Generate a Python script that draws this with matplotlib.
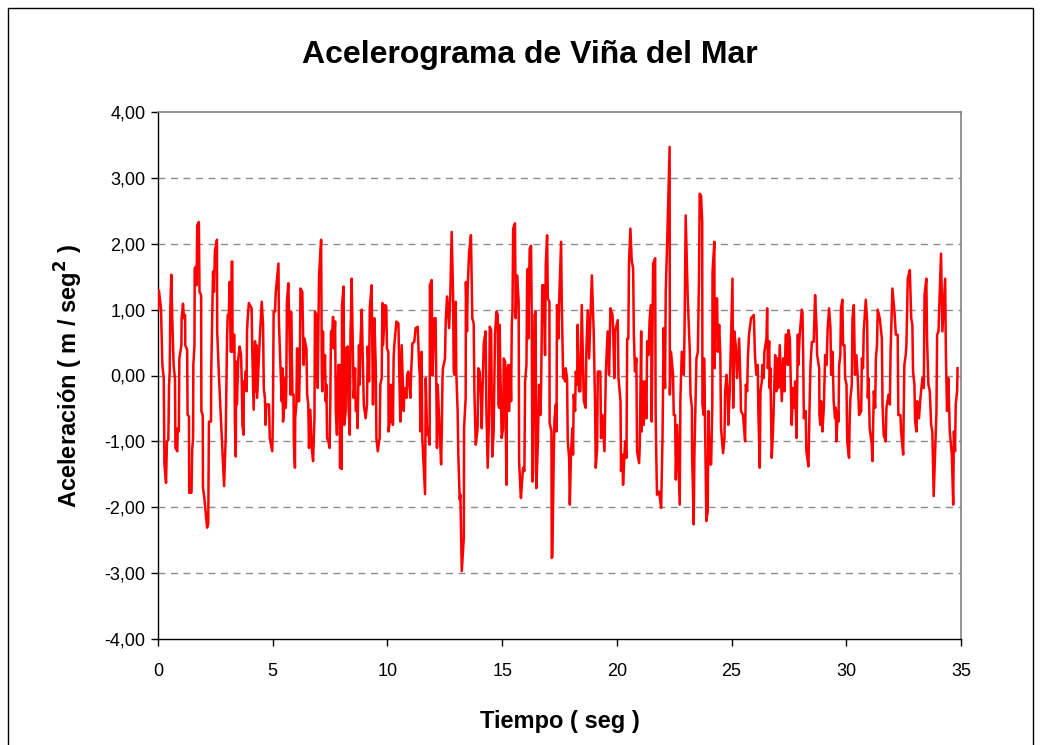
import numpy as np
import matplotlib
matplotlib.use('Agg')
import matplotlib.pyplot as plt
from matplotlib.patches import Rectangle
from matplotlib.ticker import FuncFormatter

plt.rcParams['font.family'] = ['Liberation Sans', 'DejaVu Sans']

# (tiempo [s], aceleracion [m/s2]), in ~3 s chunks
seg_00_03 = [(0.00, 1.00), (0.04, 1.29), (0.13, 1.02), (0.19, 0.16), (0.25, -0.04), (0.28, -1.35),
             (0.35, -1.63), (0.39, -1.00), (0.45, -0.98), (0.48, -0.17), (0.51, 0.06), (0.54, 1.07),
             (0.58, 1.53), (0.62, 0.90), (0.68, 0.16), (0.74, -0.05), (0.76, -1.10), (0.84, -1.15),
             (0.86, -0.80), (0.91, -0.85), (0.93, 0.26), (1.02, 0.46), (1.03, 0.87), (1.09, 1.09),
             (1.13, 0.87), (1.18, 0.92), (1.19, 0.46), (1.27, 0.39), (1.29, -0.60), (1.35, -0.62),
             (1.36, -1.78), (1.46, -1.78), (1.49, -1.12), (1.53, -0.95), (1.54, 0.16), (1.59, 0.46),
             (1.60, 1.63), (1.65, 1.65), (1.68, 1.37), (1.71, 2.28), (1.78, 2.33), (1.81, 1.27),
             (1.88, 1.22), (1.89, -0.54), (1.95, -0.60), (1.96, -1.70), (2.02, -1.86), (2.14, -2.31),
             (2.19, -2.25), (2.22, -0.70), (2.31, -0.70), (2.32, 0.06), (2.40, 1.58), (2.44, 1.27),
             (2.48, 1.89), (2.57, 2.06), (2.58, 0.67), (2.66, -0.04), (2.78, -0.95)]

seg_03_06 = [(2.88, -1.68), (2.95, -0.95), (3.01, 0.57), (3.04, 0.92), (3.09, 0.94), (3.12, 1.42),
             (3.18, 0.36), (3.21, 1.73), (3.24, 1.73), (3.25, 0.36), (3.27, 0.62), (3.33, 0.62),
             (3.35, -0.70), (3.39, -1.23), (3.41, 0.21), (3.44, -0.44), (3.50, 0.26), (3.56, 0.44),
             (3.62, 0.31), (3.65, -0.09), (3.68, -0.75), (3.73, -0.90), (3.74, -0.09), (3.79, -0.14),
             (3.81, 0.06), (3.85, 0.06), (3.86, -0.24), (3.88, 0.67), (3.91, 0.87), (3.96, 1.10),
             (4.08, 1.02), (4.11, 0.36), (4.17, -0.52), (4.23, 0.52), (4.26, -0.24), (4.29, 0.46),
             (4.32, -0.34), (4.37, 0.06), (4.43, 0.52), (4.52, 1.12), (4.58, 0.77), (4.61, -0.19),
             (4.66, -0.34), (4.69, -0.75), (4.72, -0.44), (4.84, -0.44), (4.87, -0.95), (4.98, -1.15),
             (5.01, -0.60), (5.04, 0.97), (5.10, 0.97), (5.13, 1.25), (5.25, 1.70), (5.27, 0.82),
             (5.33, 0.19), (5.39, -0.39), (5.42, 0.11), (5.45, -0.70), (5.51, -0.44), (5.54, -0.04),
             (5.57, -0.49), (5.59, -0.24), (5.62, 1.12), (5.68, 1.40), (5.71, 0.97), (5.74, 0.41),
             (5.78, -0.29)]

seg_06_09 = [(5.80, 0.97), (5.86, -0.29), (5.91, -0.29), (5.92, -1.00), (5.97, -1.40), (5.98, -0.65),
             (6.03, -0.44), (6.06, 0.41), (6.09, 0.41), (6.10, -0.39), (6.15, -0.39), (6.18, 0.11),
             (6.21, 1.32), (6.29, 1.27), (6.35, 0.16), (6.38, 0.56), (6.47, 0.41), (6.50, -0.29),
             (6.55, -0.44), (6.58, -1.10), (6.64, -0.52), (6.70, -1.10), (6.76, -1.30), (6.82, -0.65),
             (6.84, 0.97), (6.90, 0.92), (6.93, -0.04), (6.96, -0.19), (7.02, 1.52), (7.11, 2.06),
             (7.14, 0.06), (7.16, -0.24), (7.19, 0.67), (7.22, -0.04), (7.28, 0.31), (7.31, -0.39),
             (7.34, -0.14), (7.37, -0.95), (7.43, -1.00), (7.48, -1.10), (7.51, -0.44), (7.54, 0.67),
             (7.60, 0.69), (7.63, 0.89), (7.66, 0.41), (7.72, 0.82), (7.75, -0.54), (7.80, -0.90),
             (7.86, 0.16), (7.92, 0.16), (7.93, -1.40), (8.01, -1.42), (8.02, 1.07), (8.07, 1.27),
             (8.09, 1.35), (8.12, -0.75), (8.18, -0.54), (8.19, 0.41), (8.27, 0.44), (8.30, -0.42),
             (8.36, -0.90), (8.39, 0.67), (8.41, 0.87), (8.44, 1.47), (8.50, 0.29), (8.53, -0.34),
             (8.59, 0.11), (8.62, -0.54), (8.68, -0.54), (8.70, -0.80)]

seg_09_12 = [(8.76, 0.46), (8.79, -0.14), (8.82, 0.46), (8.88, 1.00), (8.94, 0.06), (8.97, -0.44),
             (9.05, -0.65), (9.11, -0.44), (9.14, 0.44), (9.20, -0.09), (9.23, 1.02), (9.31, 1.37),
             (9.37, -0.44), (9.43, 0.87), (9.49, 0.16), (9.52, -0.95), (9.58, -1.15), (9.66, -0.95),
             (9.69, -0.14), (9.75, -0.04), (9.78, 1.10), (9.81, 0.46), (9.90, 1.07), (9.95, 1.05),
             (9.98, 0.41), (10.04, 0.36), (10.05, -0.85), (10.10, -0.70), (10.13, -0.14), (10.16, -0.70),
             (10.22, -0.14), (10.24, -0.75), (10.27, 0.26), (10.30, 0.46), (10.39, 0.82), (10.48, 0.79),
             (10.51, 0.16), (10.56, -0.70), (10.62, 0.46), (10.71, -0.54), (10.74, -0.19), (10.83, -0.34),
             (10.86, 0.01), (10.91, 0.06), (11.00, -0.34), (11.03, 0.01), (11.09, 0.49), (11.17, 0.51),
             (11.23, 0.72), (11.32, 0.74), (11.38, 0.16), (11.41, 0.01), (11.44, -0.85), (11.49, 0.36),
             (11.52, -0.95), (11.64, -1.80), (11.67, -0.04), (11.73, -0.90)]

seg_12_15 = [(11.76, -0.80), (11.84, -1.05), (11.85, 1.37), (11.93, 1.45), (11.96, 0.00), (12.05, 0.87),
             (12.10, 0.87), (12.16, -1.10), (12.19, -0.14), (12.28, -0.85), (12.34, -1.35), (12.37, -0.85),
             (12.40, -0.04), (12.42, 0.11), (12.45, 0.16), (12.51, 0.26), (12.54, 0.82), (12.60, 1.20),
             (12.69, 0.72), (12.74, 1.22), (12.80, 2.18), (12.86, 1.27), (12.89, 0.06), (12.92, 0.01),
             (12.98, 1.12), (13.00, 0.06), (13.06, -0.54), (13.09, -1.20), (13.15, -1.88), (13.18, -1.81),
             (13.24, -2.97), (13.33, -2.46), (13.34, -0.80), (13.41, -0.34), (13.42, 1.42), (13.47, 0.67),
             (13.50, 1.37), (13.56, 1.87), (13.64, 2.13), (13.70, 0.87), (13.76, 0.79), (13.79, -0.24),
             (13.85, -1.05), (13.93, -0.80), (13.96, 0.11), (14.02, 0.06), (14.08, -0.39), (14.11, -0.80),
             (14.14, -0.29), (14.20, 0.49), (14.28, 0.67), (14.31, -0.44), (14.37, -1.40), (14.43, -0.60),
             (14.46, 0.74), (14.52, 0.69), (14.57, -1.23), (14.63, -0.85), (14.69, 0.62)]

seg_15_18 = [(14.75, 0.97), (14.81, 0.92), (14.84, -0.44), (14.87, -0.49), (14.89, 0.77), (14.92, 0.11),
             (14.98, -0.95), (15.04, -0.80), (15.07, 0.26), (15.13, 0.21), (15.16, -0.85), (15.19, -1.66),
             (15.21, 0.06), (15.27, 0.16), (15.30, -0.54), (15.36, 0.16), (15.39, -0.39), (15.42, 0.77),
             (15.45, 0.97), (15.48, 2.23), (15.56, 2.31), (15.59, 0.87), (15.65, 1.52), (15.72, 1.12),
             (15.74, -1.30), (15.80, -1.76), (15.82, -1.86), (15.91, -1.40), (15.97, -1.45), (16.00, -0.09),
             (16.06, 0.16), (16.09, 1.52), (16.12, 1.62), (16.14, 0.56), (16.20, 1.92), (16.26, 1.97),
             (16.29, 0.87), (16.32, -1.61), (16.35, -1.45), (16.41, 0.92), (16.46, 0.97), (16.49, -1.71),
             (16.55, -1.10), (16.61, -0.14), (16.67, -0.60), (16.70, -0.14), (16.75, 1.37), (16.81, 1.37),
             (16.87, 0.31), (16.90, 1.67), (16.96, 2.13), (16.99, 1.17), (17.06, 1.12), (17.07, -0.72),
             (17.15, -0.85), (17.16, -2.77), (17.19, -2.75), (17.25, -1.20), (17.28, -0.67), (17.34, -0.44),
             (17.37, -0.85), (17.39, 1.07), (17.45, 0.56), (17.48, 1.07), (17.57, 2.03), (17.60, 1.07),
             (17.66, -0.04)]

seg_18_21 = [(17.71, 0.06), (17.74, -0.09), (17.77, 0.11), (17.83, -0.04), (17.86, -1.00), (17.92, -1.25),
             (17.95, -1.96), (18.00, -1.20), (18.06, -0.80), (18.09, -1.20), (18.12, -0.29), (18.18, -0.54),
             (18.21, 0.06), (18.27, -0.14), (18.29, 0.77), (18.35, -0.24), (18.41, -0.24), (18.47, 1.07),
             (18.56, -0.39), (18.64, -0.49), (18.67, 0.36), (18.73, 0.99), (18.79, 0.26), (18.91, 1.52),
             (18.99, 0.67), (19.05, -0.44), (19.08, -1.40), (19.14, -1.10), (19.17, 0.06), (19.28, 0.06),
             (19.31, -0.95), (19.37, -0.60), (19.43, -0.95), (19.46, -1.15), (19.52, 0.06), (19.60, 0.67),
             (19.66, 0.01), (19.72, 1.02), (19.81, 0.92), (19.84, 0.67), (19.89, -0.04), (19.92, 0.67),
             (20.04, 0.84), (20.07, -0.04), (20.16, -0.39), (20.18, -1.45), (20.24, -1.20), (20.27, -1.66),
             (20.36, -1.00), (20.42, -1.25), (20.45, 0.56), (20.50, 0.56), (20.53, 1.72), (20.59, 2.23)]

seg_21_24 = [(20.65, 1.73), (20.71, 1.63), (20.74, 0.62), (20.79, 0.06), (20.85, 0.26), (20.88, -1.15),
             (20.97, -1.33), (21.00, -1.05), (21.06, 0.67), (21.08, -0.85), (21.14, -0.09), (21.17, -0.75),
             (21.23, -0.09), (21.29, -0.65), (21.32, 0.52), (21.38, 0.31), (21.43, 0.87), (21.49, 1.07),
             (21.52, -0.70), (21.58, 1.70), (21.67, 1.78), (21.69, -0.54), (21.72, -1.25), (21.75, -1.81),
             (21.84, -1.76), (21.93, -2.01), (21.99, -0.95), (22.04, 0.72), (22.10, -0.19), (22.13, 1.27),
             (22.19, 1.98), (22.30, 3.47), (22.31, -0.29), (22.36, 0.36), (22.45, 0.01), (22.48, -0.60),
             (22.54, -0.60), (22.57, -1.58), (22.63, -0.75), (22.74, -1.96), (22.77, -0.34), (22.83, 0.36),
             (22.92, 0.01), (22.95, 0.67), (23.00, 2.43), (23.09, 1.17), (23.18, 0.36), (23.21, -0.29),
             (23.27, -0.49), (23.28, -1.20), (23.35, -2.26), (23.38, -1.20), (23.47, 0.26), (23.53, 0.36),
             (23.58, 1.47)]

seg_24_27 = [(23.61, 2.76), (23.67, 2.73), (23.72, 2.33), (23.73, -0.44), (23.79, -0.60), (23.80, 0.26),
             (23.84, -0.60), (23.90, -2.21), (23.96, -2.06), (23.99, -0.54), (24.05, -1.35), (24.11, -1.35),
             (24.16, -0.44), (24.17, 1.57), (24.25, 2.03), (24.26, 0.11), (24.31, 1.17), (24.37, 1.17),
             (24.40, 0.36), (24.46, 0.77), (24.51, 0.31), (24.54, -0.80), (24.63, -1.18), (24.69, -0.95),
             (24.72, -0.24), (24.78, 0.01), (24.83, -0.29), (24.86, -0.75), (24.92, -0.24), (25.04, 1.47),
             (25.07, -0.49), (25.12, 0.67), (25.18, 0.46), (25.24, -0.04), (25.33, 0.56), (25.39, -0.14),
             (25.41, -0.54), (25.50, -0.60), (25.59, -1.00), (25.62, -0.14), (25.68, -0.24), (25.71, 0.26),
             (25.76, 0.62), (25.85, 0.87), (25.97, 0.92), (26.02, 0.31), (26.08, 0.01), (26.14, 0.16),
             (26.17, -0.60), (26.23, -1.40), (26.26, -0.24), (26.32, -0.09), (26.34, 0.16), (26.40, -0.04),
             (26.43, 0.36), (26.52, 0.56), (26.55, 1.02)]

seg_27_30 = [(26.58, 0.11), (26.64, 0.52), (26.66, -0.19), (26.69, 0.11), (26.75, -1.25), (26.81, -0.80),
             (26.90, 0.31), (26.95, -0.24), (27.01, 0.26), (27.04, -0.19), (27.10, 0.46), (27.19, -0.39),
             (27.25, 0.26), (27.30, -0.24), (27.36, 0.62), (27.42, 0.62), (27.45, 0.16), (27.48, 0.69),
             (27.54, 0.56), (27.62, -0.75), (27.68, -0.19), (27.74, -0.49), (27.77, -0.09), (27.83, -0.95),
             (27.89, 0.62), (27.91, 0.16), (27.97, 0.62), (28.06, 1.00), (28.09, 0.97), (28.12, 0.36),
             (28.15, -0.65), (28.23, -0.54), (28.26, -1.15), (28.35, -1.38), (28.41, -0.29), (28.44, 0.16),
             (28.50, 0.51), (28.58, 0.51), (28.64, 1.22), (28.70, 0.77), (28.73, 0.31), (28.82, 0.11),
             (28.83, -0.60), (28.87, -0.75), (28.90, -0.39), (28.96, -0.85), (29.02, -0.49), (29.08, 0.31),
             (29.14, 0.16), (29.19, 0.72), (29.25, 1.02), (29.31, 0.72), (29.34, 0.01), (29.40, 0.36),
             (29.45, -0.39), (29.51, -0.65)]

seg_30_33 = [(29.54, -0.49), (29.57, -1.00), (29.63, -0.54), (29.66, -0.70), (29.69, 0.16), (29.74, 0.31),
             (29.77, 1.02), (29.83, 1.15), (29.86, 0.46), (29.92, 0.46), (29.95, -0.04), (30.01, -0.14),
             (30.04, -1.00), (30.12, -1.25), (30.15, -0.65), (30.18, -0.34), (30.24, -0.14), (30.27, 0.87),
             (30.33, 1.07), (30.38, 0.01), (30.44, 0.31), (30.50, -0.04), (30.56, -0.60), (30.65, -0.54),
             (30.68, 0.26), (30.73, 0.11), (30.76, 0.67), (30.85, 1.15), (30.91, 0.82), (30.94, -0.34),
             (30.97, -0.04), (31.02, -0.80), (31.11, -1.05), (31.14, -1.30), (31.20, -0.24), (31.26, -0.49),
             (31.29, 0.26), (31.34, 0.46), (31.37, 1.00), (31.46, 0.87), (31.55, 0.56), (31.58, -0.44),
             (31.63, -0.90), (31.72, -1.00), (31.75, -0.49), (31.84, -0.29), (31.90, -0.44), (31.93, 0.36),
             (32.01, 1.32), (32.10, 0.97), (32.16, 0.62), (32.24, 0.62), (32.27, -0.60), (32.36, -0.60),
             (32.39, -0.85), (32.48, -1.20)]

seg_33_35 = [(32.53, 0.16), (32.59, 0.31), (32.62, 0.46), (32.68, 1.47), (32.77, 1.60), (32.83, 0.87),
             (32.88, 0.77), (32.91, 0.06), (32.97, -0.14), (33.00, -0.70), (33.06, -0.85), (33.09, -0.39),
             (33.17, -0.65), (33.23, -0.34), (33.32, -0.04), (33.38, -0.19), (33.41, 1.22), (33.49, 1.47),
             (33.52, 0.56), (33.58, -0.14), (33.64, -0.24), (33.70, -0.75), (33.75, -0.85), (33.81, -1.83),
             (33.87, -1.20), (33.93, -0.54), (33.96, 0.62), (34.02, 0.67), (34.05, 1.02), (34.13, 1.85),
             (34.19, 0.67), (34.31, 1.47), (34.34, 0.36), (34.39, -0.54), (34.45, -0.04), (34.51, -0.85),
             (34.60, -1.20), (34.66, -1.96), (34.69, -0.85), (34.74, -1.15), (34.77, -0.44), (34.83, -0.24),
             (34.85, 0.11)]

segments = [seg_00_03, seg_03_06, seg_06_09, seg_09_12, seg_12_15, seg_15_18,
            seg_18_21, seg_21_24, seg_24_27, seg_27_30, seg_30_33, seg_33_35]

x_ticks = [0, 5, 10, 15, 20, 25, 30, 35]
y_ticks = [-4, -3, -2, -1, 0, 1, 2, 3, 4]

pts = np.array([p for seg in segments for p in seg])
tiempo, acel = pts[:, 0], pts[:, 1]

fig = plt.figure(figsize=(10.41, 7.45), dpi=100)
ax = fig.add_axes([158 / 1041, 1 - 639 / 745, (961 - 158) / 1041, (639 - 112) / 745])

ax.plot(tiempo, acel, color='#FF0000', lw=1.8, zorder=3)

ax.set_xlim(0, 35)
ax.set_ylim(-4, 4)
ax.set_xticks(x_ticks)
ax.set_yticks(y_ticks)
ax.yaxis.set_major_formatter(FuncFormatter(lambda v, p: f'{v:.2f}'.replace('.', ',')))

for y in y_ticks[1:-1]:
    ax.axhline(y, color='#8c8c8c', lw=1.0, ls=(0, (5, 4)), zorder=1)

for side in ['top', 'right']:
    ax.spines[side].set_color('#808080')
    ax.spines[side].set_linewidth(1.2)
for side in ['left', 'bottom']:
    ax.spines[side].set_color('#000000')
    ax.spines[side].set_linewidth(1.0)

ax.tick_params(axis='both', direction='out', length=5, width=1, labelsize=13, colors='black')
ax.tick_params(axis='x', pad=12)
ax.tick_params(axis='y', pad=4)

ax.set_xlabel('Tiempo ( seg )', fontsize=17, fontweight='bold', labelpad=22)
ax.set_ylabel('Aceleración ( m / seg$^\\mathbf{2}$ )', fontsize=17, fontweight='bold', labelpad=14)
fig.text(530 / 1041, 1 - 55 / 745, 'Acelerograma de Viña del Mar', ha='center', va='center',
         fontsize=23, fontweight='bold')

# chart frame
fig.patches.append(Rectangle((8 / 1041, -0.02), (1033 - 8) / 1041, (745 - 8) / 745 + 0.02,
                             transform=fig.transFigure, fill=False, edgecolor='black', lw=1.0))

fig.savefig('out.png', dpi=100)
